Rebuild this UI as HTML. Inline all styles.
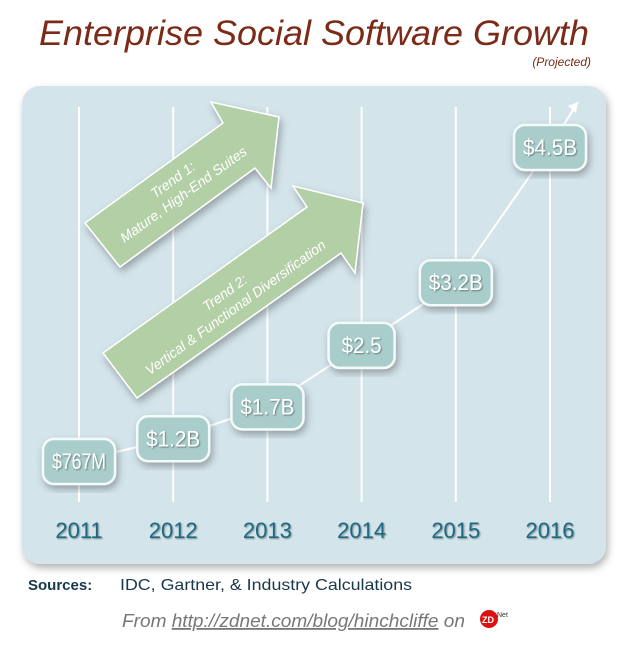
<!DOCTYPE html>
<html><head><meta charset="utf-8"><style>
body{margin:0;background:#fff;width:621px;height:640px;overflow:hidden;font-family:"Liberation Sans",sans-serif}
</style></head><body>
<svg width="621" height="640" viewBox="0 0 621 640">
<defs>
<filter id="sh" x="-20%" y="-20%" width="140%" height="140%"><feDropShadow dx="2" dy="4" stdDeviation="4" flood-color="#000" flood-opacity="0.3"/></filter>
<filter id="ts"><feDropShadow dx="1" dy="1" stdDeviation="0.8" flood-color="#000" flood-opacity="0.4"/></filter>
</defs>
<text x="314" y="45" text-anchor="middle" font-family="Liberation Sans" font-style="italic" font-size="35" fill="#7b2b18" textLength="550" lengthAdjust="spacingAndGlyphs">Enterprise Social Software Growth</text>
<text x="591" y="66" text-anchor="end" font-style="italic" font-size="12" fill="#7b2b18">(Projected)</text>
<rect x="22" y="86" width="584" height="478" rx="18" fill="#d3e4eb" filter="url(#sh)"/>
<g id="grid"></g>
<polygon points="85,223 223,123 211,102 279,117 271,188 255,168 120,267" fill="#b3cfa6" stroke="#fff" stroke-width="1.5" filter="url(#sh)"/>
<g transform="translate(178,187) rotate(-36)" font-style="italic" fill="#fff" font-size="14" text-anchor="middle">
<text y="-4">Trend 1:</text><text y="14">Mature, High-End Suites</text></g>
<polygon points="103,353 307,207 293,186 363,203 355,273 341,253 137,398" fill="#b3cfa6" stroke="#fff" stroke-width="1.5" filter="url(#sh)"/>
<g transform="translate(230,300) rotate(-36)" font-style="italic" fill="#fff" font-size="14" text-anchor="middle">
<text y="-4">Trend 2:</text><text y="14">Vertical &amp; Functional Diversification</text></g>
<g id="series"></g>
<g id="xaxis"></g>
<text x="28" y="590" font-size="15" font-weight="bold" fill="#17384a">Sources:</text>
<text x="120" y="590" font-size="16" fill="#17384a" textLength="292" lengthAdjust="spacingAndGlyphs">IDC, Gartner, &amp; Industry Calculations</text>
<text x="122" y="627" font-size="18" font-style="italic" fill="#777" textLength="343" lengthAdjust="spacingAndGlyphs">From <tspan text-decoration="underline">http://zdnet.com/blog/hinchcliffe</tspan> on</text>
<circle cx="489" cy="619" r="9" fill="#d11"/>
<text x="482" y="623" font-size="9" font-weight="bold" fill="#fff">ZD</text>
<text x="497" y="617" font-size="7" fill="#333">Net</text>
</svg>
<script>
const years=["2011","2012","2013","2014","2015","2016"];
const values=[0.767,1.2,1.7,2.5,3.2,4.5];
const labels=["$767M","$1.2B","$1.7B","$2.5","$3.2B","$4.5B"];
const NS="http://www.w3.org/2000/svg";
function xs(i){return 79+i*94.2;}
const p0=Math.pow(0.767,1.5),p1=Math.pow(4.5,1.5);
function ys(v){return 461-(Math.pow(v,1.5)-p0)*(314/(p1-p0));}
function mk(t,a,p){const e=document.createElementNS(NS,t);for(const k in a)e.setAttribute(k,a[k]);p.appendChild(e);return e;}
const grid=document.getElementById('grid'),ser=document.getElementById('series'),xa=document.getElementById('xaxis');
years.forEach((y,i)=>{
 const l=mk('line',{x1:xs(i),x2:xs(i),y1:107,y2:502,stroke:'#fff','stroke-width':2},grid);
 
 
 const t=mk('text',{x:xs(i),y:538,'text-anchor':'middle','font-size':22,fill:'#1f6b82',filter:'url(#ts)'},xa);
 t.textContent=y;
 
 
});
let d='';
values.forEach((v,i)=>{d+=(i?' L':'M')+xs(i)+','+ys(v);});
const last=values.length-1;
d+=' L'+(xs(last)+28)+','+(ys(values[last])-45);
const pl=mk('path',{d:d,fill:'none',stroke:'#fff','stroke-width':2},ser);


const ax=xs(last)+28,ay=ys(values[last])-45;
const ah=mk('polygon',{points:`${ax},${ay} ${ax-10},${ay+4} ${ax-2},${ay+11}`,fill:'#fff'},ser);


values.forEach((v,i)=>{
 const n=labels[i].length;
 const w=n>5?88:(n>4?72:66);
 const tw=n>5?70:(n>4?54:40);
 const g=mk('g',{},ser);
 
 
 mk('rect',{x:xs(i)-w/2,y:ys(v)-22,width:w,height:45,rx:11,fill:'#a8cdca',stroke:'#f4fafa','stroke-width':2.5,filter:'url(#sh)'},g);
 const t=mk('text',{x:xs(i),y:ys(v)+8,'text-anchor':'middle','font-size':22,fill:'#fff',filter:'url(#ts)',textLength:tw,lengthAdjust:'spacingAndGlyphs'},g);
 t.textContent=labels[i];
});
</script>
</body></html>
